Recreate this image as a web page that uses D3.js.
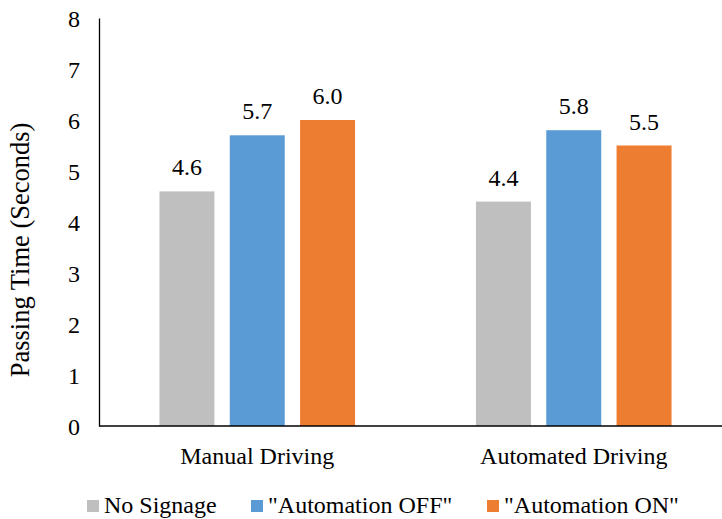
<!DOCTYPE html>
<html>
<head>
<meta charset="utf-8">
<script src="https://cdn.jsdelivr.net/npm/d3@7"></script>
<style>
  html, body { margin: 0; padding: 0; background: #ffffff; }
  svg { display: block; }
  svg text { font-family: "Liberation Serif", "Times New Roman", serif; }
</style>
</head>
<body>
<svg id="chart" width="722" height="519"></svg>
<script>
// Passing time per driving mode and signage condition
const categories = ["Manual Driving", "Automated Driving"];
const seriesNames = ["No Signage", "\"Automation OFF\"", "\"Automation ON\""];
const noSignage = [4.6, 4.4];
const automationOff = [5.7, 5.8];
const automationOn = [6.0, 5.5];
const yTicks = [0, 1, 2, 3, 4, 5, 6, 7, 8];
const colors = ["#BFBFBF", "#5B9BD5", "#ED7D31"];

const seriesValues = [noSignage, automationOff, automationOn];
const rows = categories.map((c, i) => ({
  category: c,
  values: seriesNames.map((s, j) => ({ series: s, value: seriesValues[j][i], color: colors[j] }))
}));

const FONT = "'Liberation Serif', 'Times New Roman', serif";
const svg = d3.select("#chart");
const W = 722;
const plotLeft = 99, plotTop = 18, plotBottom = 426;

const x = d3.scaleBand().domain(categories).range([plotLeft, 732]).padding(0);
const xInner = d3.scaleBand().domain(seriesNames).range([0, x.bandwidth()])
  .paddingInner(0.218).paddingOuter(0.86);
const y = d3.scaleLinear().domain([0, 8]).range([plotBottom, plotTop]);

// bars
const groups = svg.append("g").selectAll("g").data(rows).join("g")
  .attr("transform", d => `translate(${x(d.category)},0)`);

groups.selectAll("rect").data(d => d.values).join("rect")
  .attr("x", d => xInner(d.series))
  .attr("y", d => y(d.value))
  .attr("width", xInner.bandwidth())
  .attr("height", d => y(0) - y(d.value))
  .attr("fill", d => d.color);

// value labels
groups.selectAll("text").data(d => d.values).join("text")
  .attr("x", d => xInner(d.series) + xInner.bandwidth() / 2)
  .attr("y", d => y(d.value) - 16)
  .attr("text-anchor", "middle")
  .attr("font-family", FONT)
  .attr("font-size", 24)
  .attr("fill", "#000")
  .text(d => d3.format(".1f")(d.value));

// y axis
const yAxis = svg.append("g").attr("transform", `translate(${plotLeft},0)`)
  .call(d3.axisLeft(y).tickValues(yTicks).tickSize(0).tickPadding(19).tickFormat(d3.format("d")))
  .attr("font-family", FONT).attr("font-size", 24);
yAxis.select(".domain").attr("stroke", "#000").attr("stroke-width", 1.3);
yAxis.selectAll("text").attr("fill", "#000").attr("dy", "0.36em");

// x axis
const xAxis = svg.append("g").attr("transform", `translate(0,${plotBottom})`)
  .call(d3.axisBottom(x).tickSize(0).tickPadding(21))
  .attr("font-family", FONT).attr("font-size", 24);
xAxis.select(".domain").remove();
xAxis.selectAll("text").attr("fill", "#000");
svg.append("line")
  .attr("x1", plotLeft).attr("x2", W)
  .attr("y1", y(0)).attr("y2", y(0))
  .attr("stroke", "#000").attr("stroke-width", 1.3);

// y axis title
svg.append("text")
  .attr("transform", `translate(28.5,${(120 + 380) / 2}) rotate(-90)`)
  .attr("text-anchor", "middle")
  .attr("font-family", FONT)
  .attr("font-size", 26.5)
  .attr("fill", "#000")
  .text("Passing Time (Seconds)");

// legend
const legendX = [87, 251, 487];
const legend = svg.append("g").selectAll("g").data(seriesNames).join("g")
  .attr("transform", (d, i) => `translate(${legendX[i]},500)`);
legend.append("rect").attr("width", 12).attr("height", 12).attr("fill", (d, i) => colors[i]);
legend.append("text")
  .attr("x", 17).attr("y", 12.5)
  .attr("font-family", FONT)
  .attr("font-size", 24).attr("fill", "#000")
  .text(d => d);
</script>
</body>
</html>
